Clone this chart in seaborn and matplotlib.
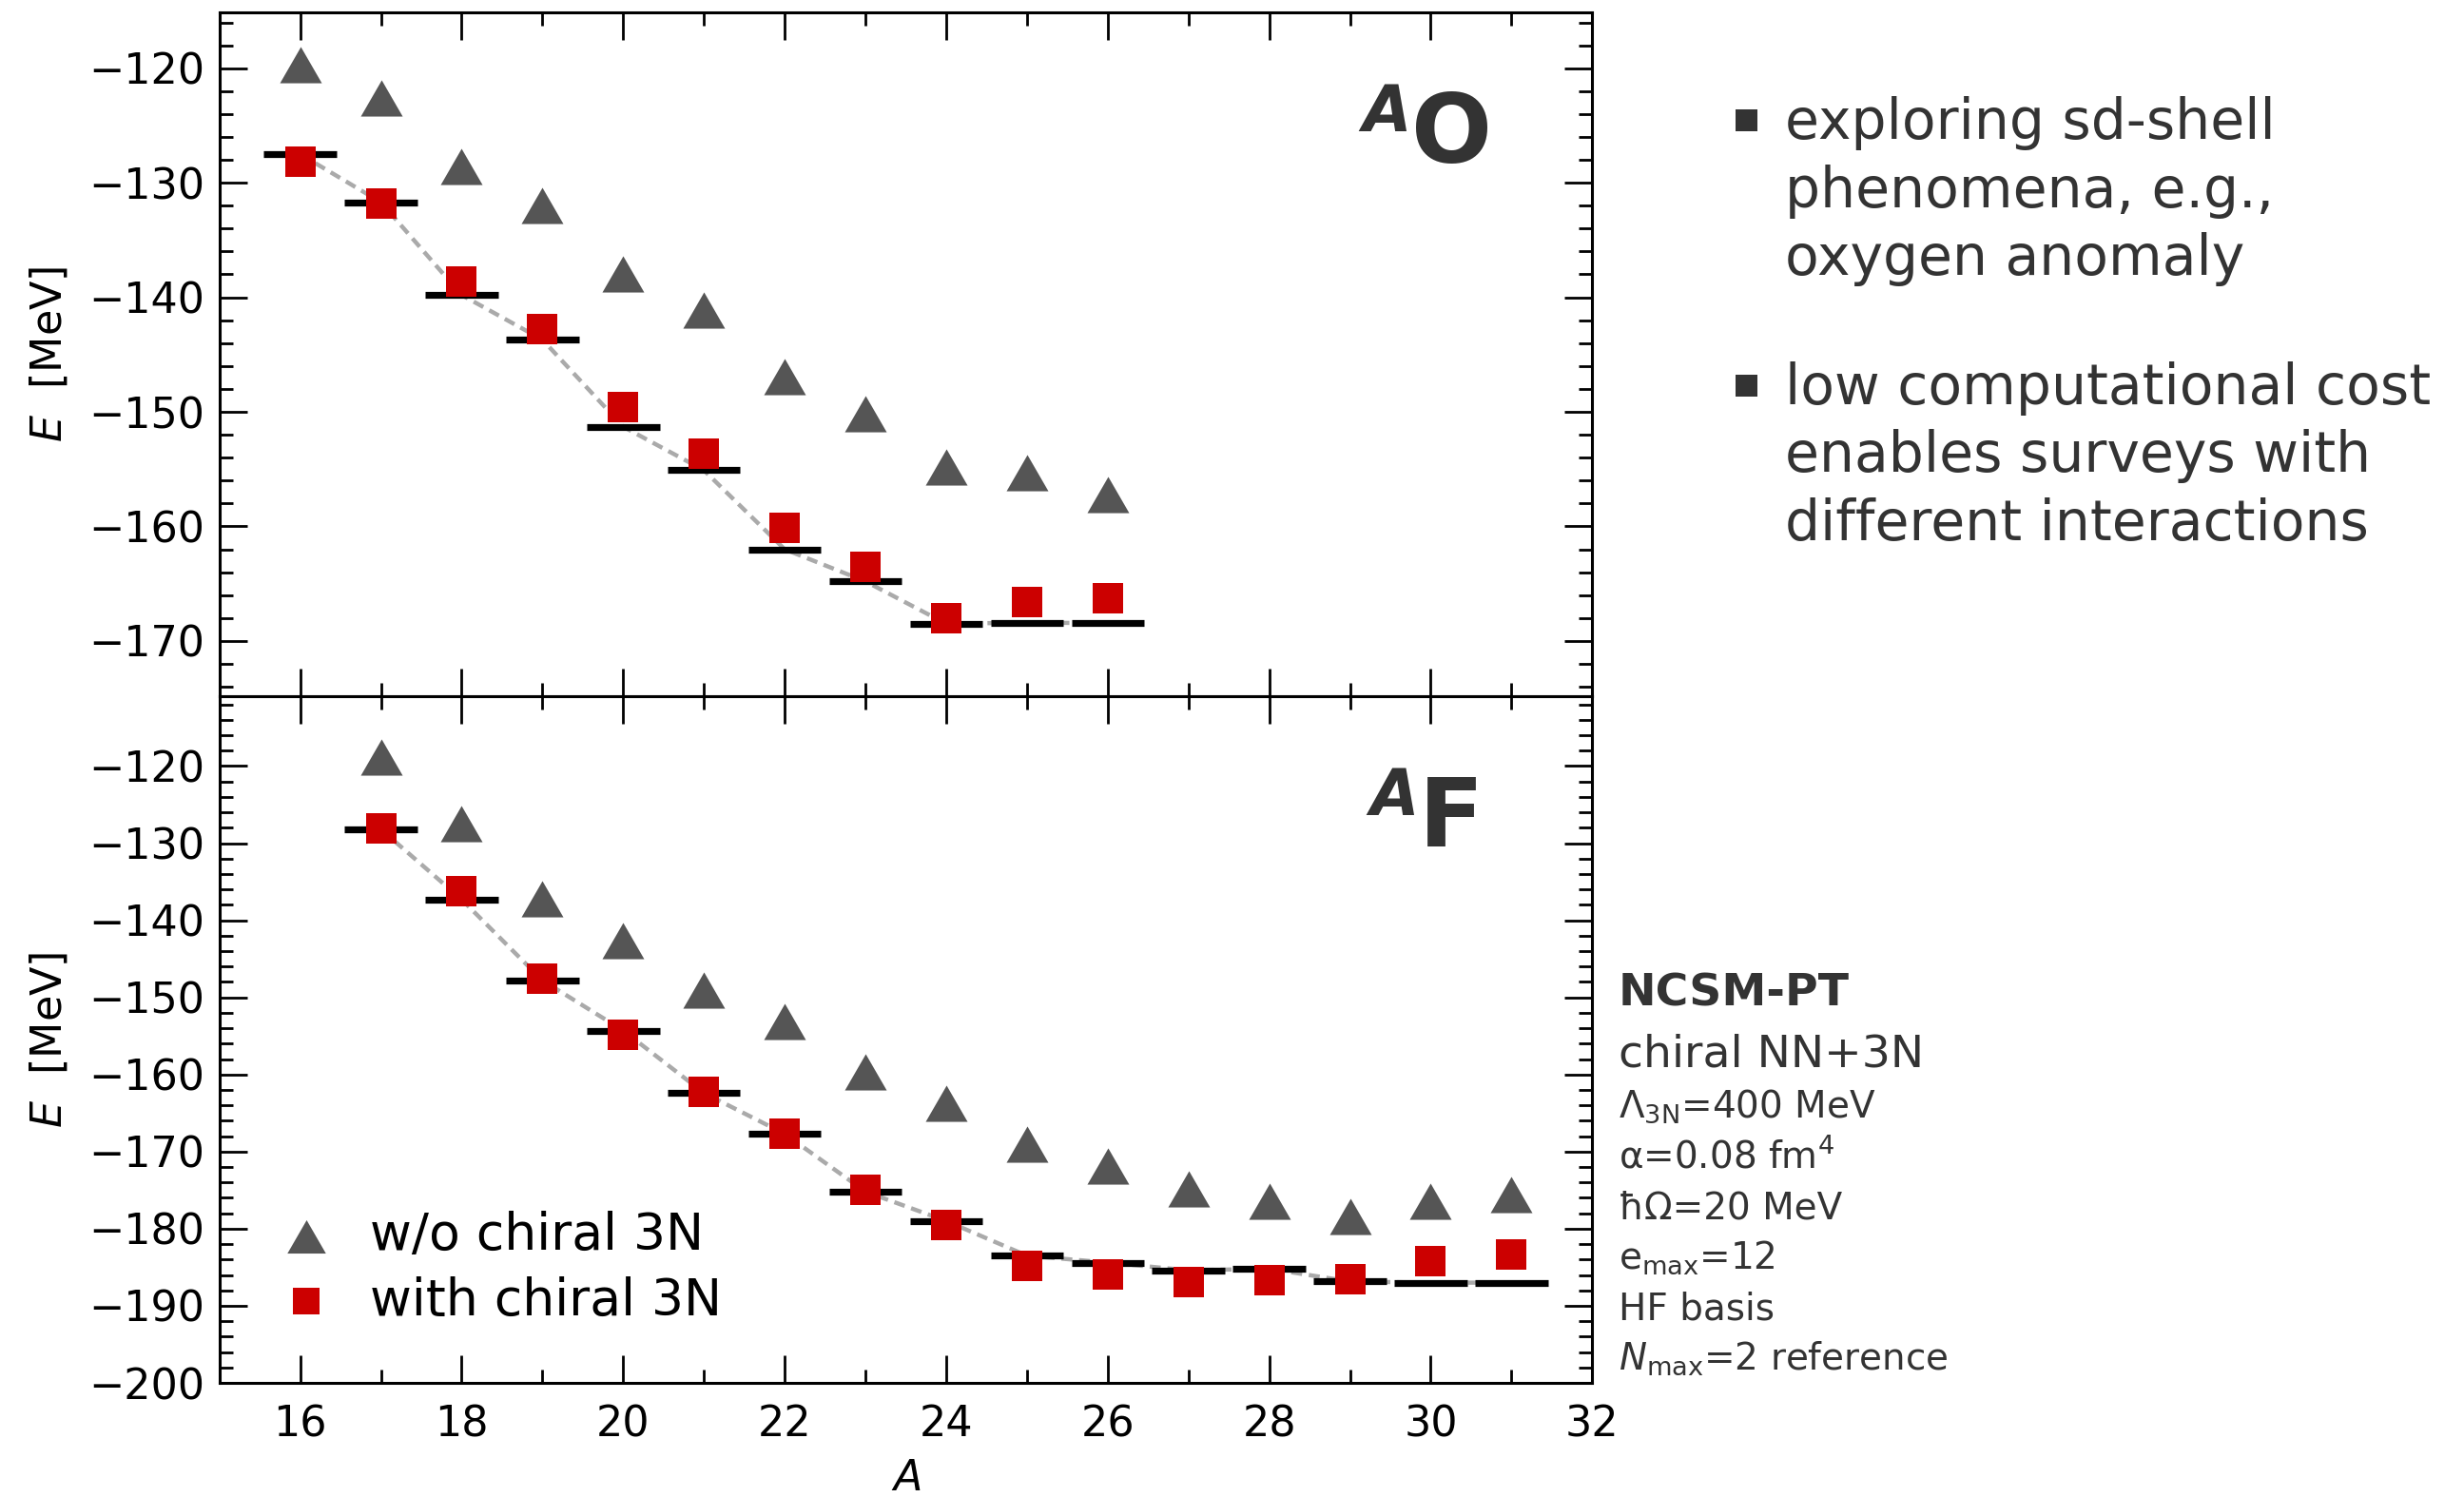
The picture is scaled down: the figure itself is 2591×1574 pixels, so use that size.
import numpy as np
import pandas as pd
import matplotlib
matplotlib.use("Agg")
import matplotlib.pyplot as plt
from matplotlib.patches import Rectangle
from matplotlib.ticker import MultipleLocator
import seaborn as sns

# ---------------- data: ground-state energies [MeV] ----------------
# oxygen isotopes
A_O = [16, 17, 18, 19, 20, 21, 22, 23, 24, 25, 26]
O_no3N = [-119.7, -122.6, -128.6, -132.0, -138.0, -141.1, -146.9, -150.2, -154.8, -155.3, -157.2]
O_3N = [-128.15, -131.8, -138.6, -142.8, -149.6, -153.65, -160.1, -163.5, -168.0, -166.6, -166.3]
O_exp = [-127.5, -131.7, -139.8, -143.7, -151.3, -155.1, -162.0, -164.8, -168.5, -168.4, -168.45]

# fluorine isotopes
A_F = [17, 18, 19, 20, 21, 22, 23, 24, 25, 26, 27, 28, 29, 30, 31]
F_no3N = [-118.8, -127.5, -137.2, -142.6, -149.0, -153.1, -159.7, -163.7, -169.0, -171.85,
          -174.8, -176.4, -178.4, -176.4, -175.6]
F_3N = [-128.1, -136.2, -147.55, -154.8, -162.3, -167.7, -175.0, -179.5, -184.8, -185.9,
        -186.9, -186.7, -186.5, -184.2, -183.3]
F_exp = [-128.2, -137.3, -147.8, -154.3, -162.4, -167.7, -175.2, -179.0, -183.5, -184.4,
         -185.4, -185.2, -186.85, -187.0, -187.0]

series_labels = ["w/o chiral 3N", "with chiral 3N"]
bullet_lines = [["exploring sd-shell", "phenomena, e.g.,", "oxygen anomaly"],
                ["low computational cost", "enables surveys with", "different interactions"]]
method_title = "NCSM-PT"
method_sub = "chiral NN+3N"
method_params = [r"Λ$_{\mathrm{3N}}$=400 MeV", r"α=0.08 fm$^{4}$", "ħΩ=20 MeV",
                 r"e$_{\mathrm{max}}$=12", "HF basis", r"$N_{\mathrm{max}}$=2 reference"]

# ---------------- style ----------------
W, H, DPI = 2591, 1574, 200
sns.set_theme(style="ticks")
plt.rcParams["font.family"] = ["DejaVu Sans"]
plt.rcParams["mathtext.fontset"] = "dejavusans"
for key in ["text.color", "axes.labelcolor", "xtick.color", "ytick.color", "axes.edgecolor"]:
    plt.rcParams[key] = "black"

TRI_COLOR = "#555555"
SQ_COLOR = "#cc0000"
LINE_COLOR = "#aaaaaa"
TEXT_DARK = "#333333"
# equilateral triangle marker, centred on its bounding box
TRI = [(-1.0, -0.866), (1.0, -0.866), (0.0, 0.866), (-1.0, -0.866)]

fig = plt.figure(figsize=(W / DPI, H / DPI), dpi=DPI)


def fx(px):
    return px / W


def fy(py):
    return 1.0 - py / H


left, right = 230.7, 1674.3
y_top, y_mid, y_bot = 12.7, 731.7, 1454.0
ax_o = fig.add_axes([fx(left), fy(y_mid), (right - left) / W, (y_mid - y_top) / H])
ax_f = fig.add_axes([fx(left), fy(y_bot), (right - left) / W, (y_bot - y_mid) / H])


def draw_panel(ax, A, e_no, e_3n, e_exp):
    A = np.asarray(A, dtype=float)
    df = pd.DataFrame({"A": A, "no3N": e_no, "with3N": e_3n, "exp": e_exp})
    sns.lineplot(data=df, x="A", y="exp", color=LINE_COLOR, linewidth=1.6,
                 ax=ax, zorder=1.5, sort=True)
    ax.lines[-1].set_dashes([2.6, 1.6])
    ax.hlines(df["exp"], df["A"] - 0.45, df["A"] + 0.45, colors="black",
              linewidth=2.6, zorder=2)
    h1 = ax.scatter(df["A"], df["no3N"], marker=TRI, s=251, color=TRI_COLOR,
                    linewidths=0, zorder=3, label=series_labels[0])
    h2 = ax.scatter(df["A"], df["with3N"], marker="s", s=128, color=SQ_COLOR,
                    linewidths=0, zorder=3, label=series_labels[1])
    ax.set_xlim(15, 32)
    ax.xaxis.set_major_locator(MultipleLocator(2))
    ax.xaxis.set_minor_locator(MultipleLocator(1))
    ax.yaxis.set_major_locator(MultipleLocator(10))
    ax.yaxis.set_minor_locator(MultipleLocator(2))
    ax.tick_params(which="both", direction="in", top=True, right=True,
                   width=1.0, labelsize=16)
    ax.tick_params(which="major", length=10.3)
    ax.tick_params(which="minor", length=5.0)
    ax.tick_params(axis="y", pad=5.6)
    ax.tick_params(axis="x", pad=8)
    for sp in ax.spines.values():
        sp.set_linewidth(1.1)
        sp.set_color("black")
    ax.set_ylabel(r"$E$  [MeV]", fontsize=16, labelpad=7)
    ax.set_xlabel("")
    return h1, h2


draw_panel(ax_o, A_O, O_no3N, O_3N, O_exp)
h_tri, h_sq = draw_panel(ax_f, A_F, F_no3N, F_3N, F_exp)

ax_o.set_ylim(-174.8, -115.1)
ax_o.tick_params(labelbottom=False)
ax_f.set_ylim(-200, -110.9)
ax_f.set_xlabel(r"$A$", fontsize=16, labelpad=5)

ax_f.legend([h_tri, h_sq], series_labels, loc="upper left",
            bbox_to_anchor=(0.0447, 0.250), frameon=False, borderpad=0,
            borderaxespad=0, handlelength=1.0, handletextpad=0.75,
            labelspacing=0.3, fontsize=19.3, markerscale=0.92)

# nucleus labels
fig.text(fx(1432), fy(138), "A", fontsize=24, fontweight="bold", fontstyle="italic",
         color=TEXT_DARK, va="baseline", ha="left")
fig.text(fx(1484), fy(171), "O", fontsize=36, fontweight="bold",
         color=TEXT_DARK, va="baseline", ha="left")
fig.text(fx(1440), fy(857), "A", fontsize=24, fontweight="bold", fontstyle="italic",
         color=TEXT_DARK, va="baseline", ha="left")
fig.text(fx(1492), fy(890), "F", fontsize=36, fontweight="bold",
         color=TEXT_DARK, va="baseline", ha="left")

# bullet points
bullet_base = [146, 425]
for base, lines in zip(bullet_base, bullet_lines):
    fig.patches.append(Rectangle((fx(1825), fy(base - 8.5)), 23 / W, 23 / H,
                                 transform=fig.transFigure, facecolor=TEXT_DARK,
                                 edgecolor="none"))
    for i, line in enumerate(lines):
        fig.text(fx(1877), fy(base + i * 71.5), line, fontsize=21, color=TEXT_DARK,
                 va="baseline", ha="left")

# method description
fig.text(fx(1702), fy(1057), method_title, fontsize=17, fontweight="bold",
         color=TEXT_DARK, va="baseline", ha="left")
fig.text(fx(1702), fy(1121), method_sub, fontsize=17, color=TEXT_DARK,
         va="baseline", ha="left")
for i, line in enumerate(method_params):
    fig.text(fx(1702), fy(1175 + i * 53.0), line, fontsize=14, color=TEXT_DARK,
             va="baseline", ha="left")

fig.savefig("out.png", dpi=DPI)
